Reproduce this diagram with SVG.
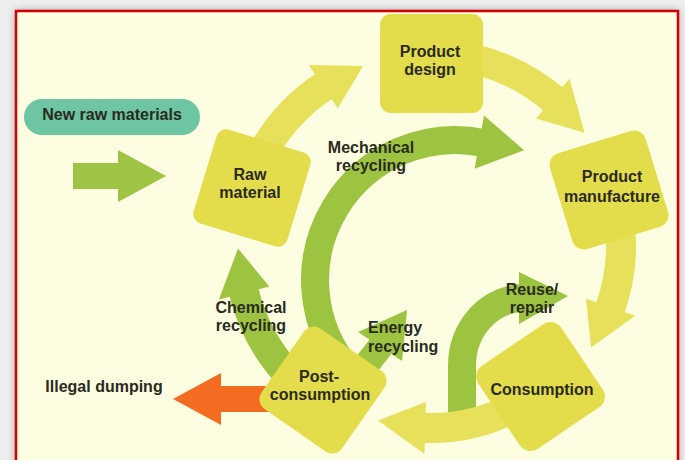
<svg xmlns="http://www.w3.org/2000/svg" width="685" height="460" viewBox="0 0 685 460">
  <defs>
    <filter id="shadow" x="-5%" y="-5%" width="110%" height="110%">
      <feGaussianBlur stdDeviation="4"/>
    </filter>
    <style>
      .box { fill: #e3dc4b; }
      .yarrow { fill: none; stroke: #e6e05a; stroke-width: 30; }
      .yhead { fill: #e6e05a; }
      .garrow { fill: none; stroke: #9cc440; }
      .ghead { fill: #9cc440; }
      .lbl { font-family: "Liberation Sans", Arial, sans-serif; font-weight: bold; font-size: 16px; fill: #2a2a1e; text-anchor: middle; }
      .left { text-anchor: start; }
    </style>
  </defs>

  <!-- page and framed panel -->
  <rect x="0" y="0" width="685" height="460" fill="#eeeeee"/>
  <rect x="16" y="11" width="662" height="480" fill="#555" opacity="0.6" filter="url(#shadow)"/>
  <rect x="16" y="11" width="662" height="480" fill="#fdfde1" stroke="#d40000" stroke-width="2.5"/>

  <g id="connectors">
    <!-- mechanical recycling: inner loop -->
    <path class="garrow" stroke-width="28" d="M347.8,370 A140,140 0 0 1 484.1,143.1"/>
    <polygon class="ghead" points="484,115.5 524,150.2 474.6,168.7"/>
    <!-- chemical recycling -->
    <path class="garrow" stroke-width="30" d="M294.2,380.8 A192,192 0 0 1 243.3,289.8"/>
    <polygon class="ghead" points="218.9,299.6 238,248.4 269.3,286.6"/>
    <!-- energy recycling -->
    <path class="garrow" stroke-width="26" d="M356,378 L381,346"/>
    <polygon class="ghead" points="358,332 407,310 402,361"/>
    <!-- reuse / repair -->
    <path class="garrow" stroke-width="28" d="M462,428 L462,366 A62,68 0 0 1 524,298 L527,298"/>
    <polygon class="ghead" points="519,272 568,296 519,324"/>

    <!-- main cycle -->
    <path class="yarrow" d="M256.9,164.3 A191,191 0 0 1 326,84.8"/>
    <polygon class="yhead" points="308.7,65.1 363.1,66.1 337.7,108.2"/>
    <path class="yarrow" d="M446.7,54.7 A191,191 0 0 1 555.3,100.9"/>
    <polygon class="yhead" points="569.5,78.8 584.5,132.7 536.1,118.6"/>
    <path class="yarrow" d="M618.1,211.8 A191,191 0 0 1 609.5,310.3"/>
    <polygon class="yhead" points="635.2,315.7 591.1,347.6 586,298.7"/>
    <path class="yarrow" d="M521.5,403.5 A183,183 0 0 1 420.4,427.7"/>
    <polygon class="yhead" points="425.9,402 378,420.5 424.5,453.9"/>

    <!-- new raw materials in -->
    <polygon fill="#9fc443" points="73,163 118,163 118,150 166,176 118,202 118,189 73,189"/>
    <!-- illegal dumping out -->
    <polygon fill="#f36c21" points="280,386 221,386 221,373 173,399 221,425 221,412 280,412"/>
  </g>

  <g id="new-raw-materials">
    <rect x="24" y="99" width="176" height="36" rx="18" fill="#6dc5a1"/>
    <text class="lbl" x="112" y="120">New raw materials</text>
  </g>

  <g id="raw-material">
    <rect class="box" x="-49" y="-49" width="98" height="98" rx="10" transform="translate(252,188) rotate(17)"/>
    <text class="lbl" x="250" y="180">Raw</text>
    <text class="lbl" x="250" y="198">material</text>
  </g>

  <g id="product-design">
    <rect class="box" x="380" y="14" width="103" height="99" rx="11"/>
    <text class="lbl" x="430" y="57">Product</text>
    <text class="lbl" x="430" y="75">design</text>
  </g>

  <g id="product-manufacture">
    <rect class="box" x="-50" y="-50" width="100" height="100" rx="12" transform="translate(609,190) rotate(-17)"/>
    <text class="lbl" x="612" y="182">Product</text>
    <text class="lbl" x="612" y="202">manufacture</text>
  </g>

  <g id="consumption">
    <rect class="box" x="-50" y="-50" width="100" height="100" rx="13" transform="translate(540.5,386.5) rotate(-34)"/>
    <text class="lbl" x="542" y="395">Consumption</text>
  </g>

  <g id="post-consumption">
    <rect class="box" x="-49" y="-49" width="98" height="98" rx="12" transform="translate(323,390) rotate(35)"/>
    <text class="lbl" x="319" y="382">Post-</text>
    <text class="lbl" x="320" y="400">consumption</text>
  </g>

  <g id="labels">
    <text class="lbl" x="371" y="153">Mechanical</text>
    <text class="lbl" x="371" y="171">recycling</text>
    <text class="lbl" x="251" y="313">Chemical</text>
    <text class="lbl" x="251" y="331">recycling</text>
    <text class="lbl left" x="368" y="333">Energy</text>
    <text class="lbl left" x="368" y="352">recycling</text>
    <text class="lbl" x="532" y="295">Reuse/</text>
    <text class="lbl" x="532" y="313">repair</text>
    <text class="lbl" x="104" y="392">Illegal dumping</text>
  </g>
</svg>
